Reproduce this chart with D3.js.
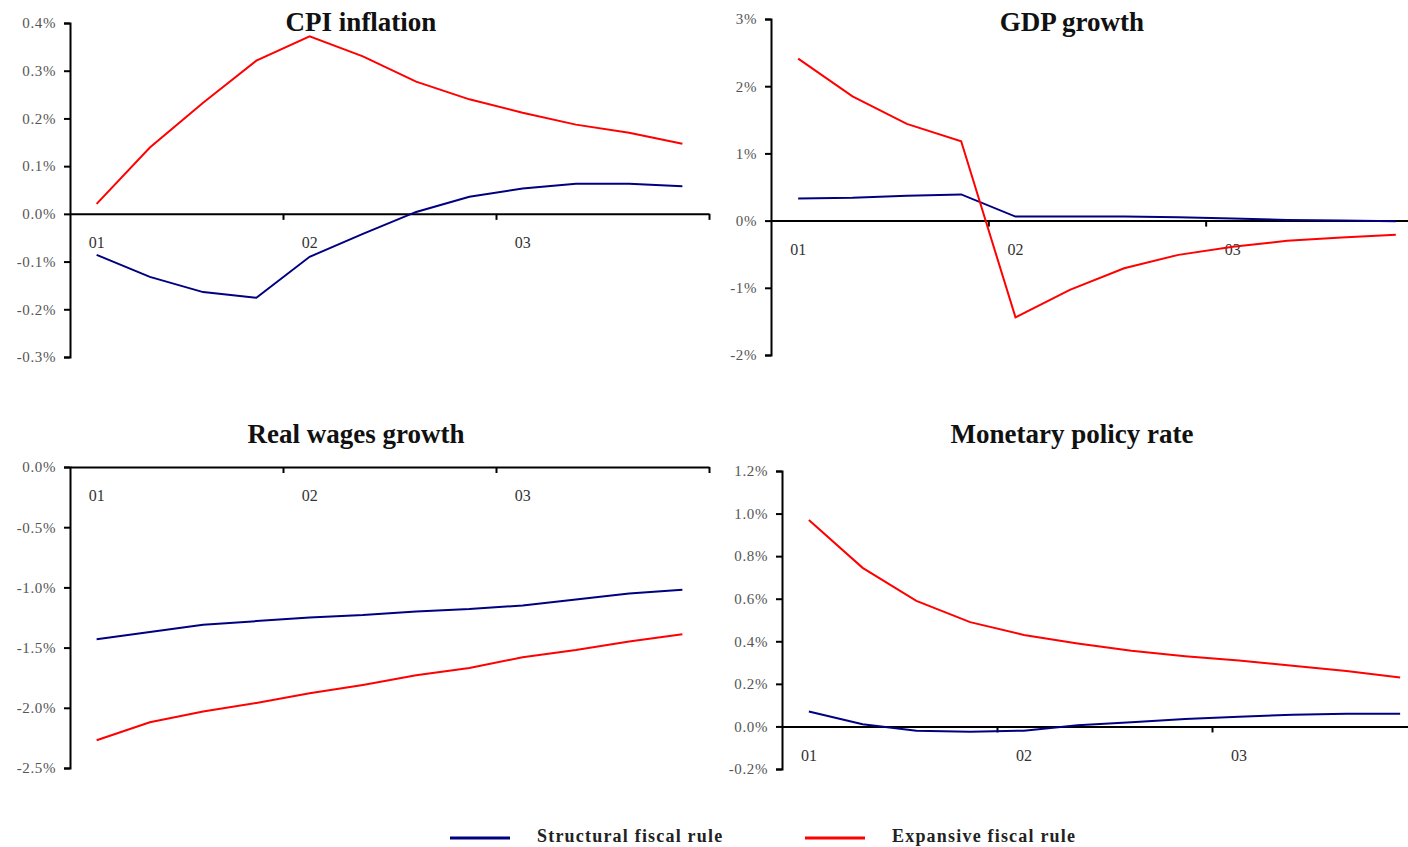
<!DOCTYPE html>
<html>
<head>
<meta charset="utf-8">
<script src="https://cdn.jsdelivr.net/npm/d3@7"></script>
<style>
  body { margin: 0; background: #fff; }
  svg { display: block; }
</style>
</head>
<body>
<svg id="chart"></svg>
<script>
// === Data (percent, quarterly, 3 years) ===
const quarters = ["01-1","01-2","01-3","01-4","02-1","02-2","02-3","02-4","03-1","03-2","03-3","03-4"];
const yearTicks = ["01-1","02-1","03-1"];
const yearLabels = ["01","02","03"];
const seriesNames = ["Structural fiscal rule", "Expansive fiscal rule"];

const cpiStructural = [-0.086,-0.132,-0.164,-0.176,-0.090,-0.042,0.004,0.036,0.053,0.063,0.063,0.058];
const cpiExpansive  = [0.021,0.139,0.233,0.321,0.372,0.330,0.277,0.240,0.212,0.187,0.170,0.147];

const gdpStructural = [0.33,0.34,0.37,0.39,0.06,0.06,0.06,0.05,0.03,0.01,0.0,-0.01];
const gdpExpansive  = [2.41,1.85,1.44,1.18,-1.44,-1.03,-0.71,-0.51,-0.39,-0.30,-0.25,-0.21];

const wageStructural = [-1.43,-1.37,-1.31,-1.28,-1.25,-1.23,-1.20,-1.18,-1.15,-1.10,-1.05,-1.02];
const wageExpansive  = [-2.27,-2.12,-2.03,-1.96,-1.88,-1.81,-1.73,-1.67,-1.58,-1.52,-1.45,-1.39];

const rateStructural = [0.07,0.01,-0.02,-0.025,-0.02,0.005,0.02,0.035,0.045,0.055,0.06,0.06];
const rateExpansive  = [0.97,0.745,0.59,0.49,0.43,0.39,0.355,0.33,0.31,0.285,0.26,0.23];

const cpiTicks  = [-0.3,-0.2,-0.1,0,0.1,0.2,0.3,0.4];
const gdpTicks  = [-2,-1,0,1,2,3];
const wageTicks = [-2.5,-2.0,-1.5,-1.0,-0.5,0];
const rateTicks = [-0.2,0,0.2,0.4,0.6,0.8,1.0,1.2];

const colors = ["#000080", "#ff0000"];

const svg = d3.select("#chart").attr("width", 1408).attr("height", 847);
const serif = "'Liberation Serif', 'DejaVu Serif', serif";

drawPanel({ title: "CPI inflation", titleX: 361, titleY: 31, left: 70, right: 709, top: 23, bottom: 357,
  domain: [-0.3, 0.4], ticks: cpiTicks, fmt: d => d.toFixed(1) + "%",
  series: [cpiStructural, cpiExpansive] });

drawPanel({ title: "GDP growth", titleX: 1072, titleY: 31, left: 771, right: 1423, top: 19, bottom: 355,
  domain: [-2, 3], ticks: gdpTicks, fmt: d => d.toFixed(0) + "%",
  series: [gdpStructural, gdpExpansive] });

drawPanel({ title: "Real wages growth", titleX: 356, titleY: 443, left: 70, right: 709, top: 467, bottom: 768,
  domain: [-2.5, 0], ticks: wageTicks, fmt: d => d.toFixed(1) + "%",
  series: [wageStructural, wageExpansive] });

drawPanel({ title: "Monetary policy rate", titleX: 1072, titleY: 443, left: 782, right: 1427, top: 471, bottom: 769,
  domain: [-0.2, 1.2], ticks: rateTicks, fmt: d => d.toFixed(1) + "%",
  series: [rateStructural, rateExpansive] });

drawLegend();

function drawPanel(p) {
  const g = svg.append("g");
  const x = d3.scaleBand().domain(quarters).range([p.left, p.right]);
  const xb = d3.scaleLinear().domain([0, quarters.length]).range([p.left, p.right]);
  const y = d3.scaleLinear().domain(p.domain).range([p.bottom, p.top]);
  const y0 = y(0);

  // y axis
  const ya = g.append("g").attr("transform", `translate(${p.left},0)`)
    .call(d3.axisLeft(y).tickValues(p.ticks).tickSize(6).tickPadding(8).tickFormat(p.fmt));
  ya.attr("font-family", serif);
  ya.select(".domain").attr("stroke", "#000").attr("stroke-width", 2);
  ya.selectAll(".tick line").attr("stroke", "#000").attr("stroke-width", 2);
  ya.selectAll("text").style("font-family", serif).style("font-size", "15px")
    .style("letter-spacing", "0.6px").attr("fill", "#555")
    .text(d => p.fmt(d).replace("\u2212", "-"));

  // x axis at zero, tick marks every year
  const xa = g.append("g").attr("transform", `translate(0,${y0})`)
    .call(d3.axisBottom(xb).tickValues([4, 8, 12]).tickSize(6).tickSizeOuter(0).tickFormat(""));
  xa.select(".domain").attr("stroke", "#000").attr("stroke-width", 2);
  xa.selectAll(".tick line").attr("stroke", "#000").attr("stroke-width", 2);

  const xl = g.append("g").attr("transform", `translate(0,${y0})`)
    .call(d3.axisBottom(x).tickValues(yearTicks).tickSize(0).tickPadding(23)
      .tickFormat((d, i) => yearLabels[i]));
  xl.attr("font-family", serif);
  xl.select(".domain").remove();
  xl.selectAll("text").style("font-family", serif).style("font-size", "16px").attr("fill", "#333");

  const line = d3.line().x((d, i) => x(quarters[i]) + x.bandwidth() / 2).y(d => y(d));
  p.series.forEach((s, k) => {
    g.append("path").datum(s).attr("fill", "none").attr("stroke", colors[k])
      .attr("stroke-width", 2).attr("d", line);
  });

  svg.append("text").attr("x", p.titleX).attr("y", p.titleY).attr("text-anchor", "middle")
    .style("font-family", serif).style("font-size", "27px").style("font-weight", "bold")
    .attr("fill", "#111").text(p.title);
}

function drawLegend() {
  const items = [{ x: 450 }, { x: 805 }];
  items.forEach((it, i) => {
    svg.append("line").attr("x1", it.x).attr("x2", it.x + 60).attr("y1", 838).attr("y2", 838)
      .attr("stroke", colors[i]).attr("stroke-width", 3);
    svg.append("text").attr("x", it.x + 87).attr("y", 842)
      .style("font-family", serif).style("font-size", "18px").style("font-weight", "bold")
      .style("letter-spacing", "1.2px").attr("fill", "#222").text(seriesNames[i]);
  });
}
</script>
</body>
</html>
